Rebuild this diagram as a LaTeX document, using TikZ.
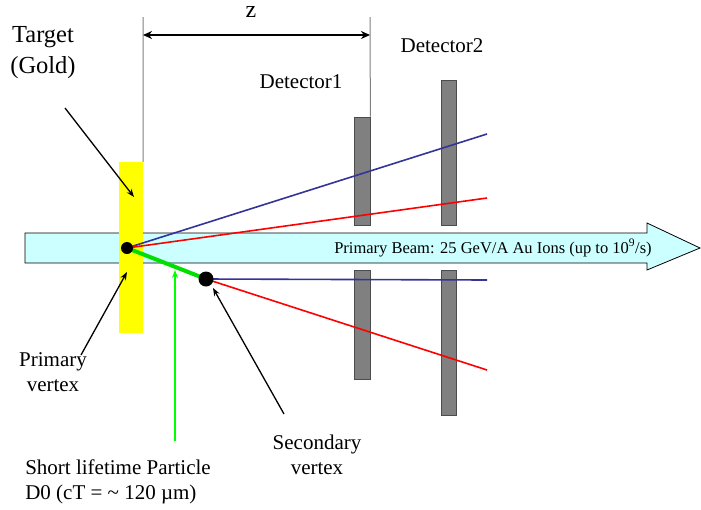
\documentclass[tikz,border=0pt]{standalone}
\usepackage{fontspec}
\setmainfont{Liberation Serif}
\usetikzlibrary{arrows.meta}
\definecolor{beamfill}{HTML}{CCFFFF}
\definecolor{trackblue}{HTML}{333399}
\definecolor{detgray}{HTML}{808080}
\definecolor{gold}{HTML}{FFFF00}
\definecolor{brightgreen}{HTML}{00FF00}
\definecolor{darkgreen}{HTML}{00E000}
\begin{document}
\begin{tikzpicture}[x=1pt,y=-1pt,
  lbl/.style={font=\fontsize{14pt}{16.67pt}\selectfont, scale=1.5, transform shape, align=center, inner sep=0pt},
  detbox/.style={fill=detgray, draw=black!70, line width=0.8pt},
  guide/.style={draw=detgray, line width=1pt},
  pointer/.style={-{Stealth[length=8pt,width=6pt]}, line width=1.3pt},
  track/.style={line width=1.6pt},
  vtx/.style={circle, fill=black, inner sep=0pt}]
\useasboundingbox (0,0) rectangle (701,509);
% beam arrow
\draw[fill=beamfill, draw=black, line width=0.8pt]
  (25,233) -- (647,233) -- (647,223) -- (700,248) -- (647,270) -- (647,263) -- (25,263) -- cycle;
\node[font=\fontsize{16.5pt}{20pt}\selectfont, inner sep=0pt] (beamlbl) at (493,248) {Primary Beam: 25 GeV/A Au Ions (up to 10\textsuperscript{9}/s)};
% target
\node[fill=gold, minimum width=24pt, minimum height=171pt, inner sep=0pt] (target) at (131,247.5) {};
% guide lines
\coordinate (g1top) at (143,17);
\coordinate (g2top) at (370,17);
\draw[guide] (g1top) -- (target.north east);
% detectors
\node[detbox, minimum width=16pt, minimum height=108pt, inner sep=0pt] (d1t) at (362,171) {};
\node[detbox, minimum width=16pt, minimum height=109pt, inner sep=0pt] (d1b) at (362,324.5) {};
\node[detbox, minimum width=15pt, minimum height=145pt, inner sep=0pt] (d2t) at (448.5,152.5) {};
\node[detbox, minimum width=15pt, minimum height=145pt, inner sep=0pt] (d2b) at (448.5,342.5) {};
\draw[guide] (g2top) -- (d1t.north east);
% z arrow
\coordinate (zl) at (143,35);
\coordinate (zr) at (370,35);
\draw[{Stealth[length=9pt,width=8pt]}-{Stealth[length=9pt,width=8pt]}, line width=2.4pt] (zl) -- (zr);
\node[font=\fontsize{16pt}{20pt}\selectfont, scale=1.5, transform shape, inner sep=0pt] (zlbl) at (251,12) {z};
% vertices
\coordinate (pv) at (127,248);
\coordinate (sv) at (206,279);
\coordinate (b1) at (487,134);
\coordinate (r1) at (487,198);
\coordinate (b2) at (487,280);
\coordinate (r2) at (487,370);
\draw[track, trackblue] (pv) -- (b1);
\draw[track, red] (pv) -- (r1);
\draw[track, trackblue] (sv) -- (b2);
\draw[track, red] (sv) -- (r2);
\draw[line width=4pt, darkgreen] (pv) -- (sv);
\node[vtx, minimum size=12pt] (pvdot) at (pv) {};
\node[vtx, minimum size=15pt] (svdot) at (sv) {};
% labels
\node[lbl, font=\fontsize{16.33pt}{20.67pt}\selectfont] (tlbl) at (43,53) {Target\\(Gold)};
\node[lbl] (det1) at (301,82) {Detector1};
\node[lbl] (det2) at (442,46) {Detector2};
\node[lbl] (pvlbl) at (53,372) {Primary\\vertex};
\node[lbl] (svlbl) at (317,455) {Secondary\\vertex};
\node[lbl, align=left, anchor=west] (dlbl) at (25,482) {Short lifetime Particle\\D0 (cT = \textasciitilde{} 120 \textmu m)};
% pointers
\coordinate (tstart) at (65,108);
\coordinate (tend) at (134,197);
\draw[pointer] (tstart) -- (tend);
\coordinate (pstart) at (81,355);
\coordinate (pend) at (127,272);
\draw[pointer] (pstart) -- (pend);
\coordinate (sstart) at (284,414);
\coordinate (send) at (213,288);
\draw[pointer] (sstart) -- (send);
\coordinate (gstart) at (175,441);
\coordinate (gend) at (175,270);
\draw[-{Stealth[length=8pt,width=6pt]}, line width=1.5pt, brightgreen] (gstart) -- (gend);
\end{tikzpicture}
\end{document}
